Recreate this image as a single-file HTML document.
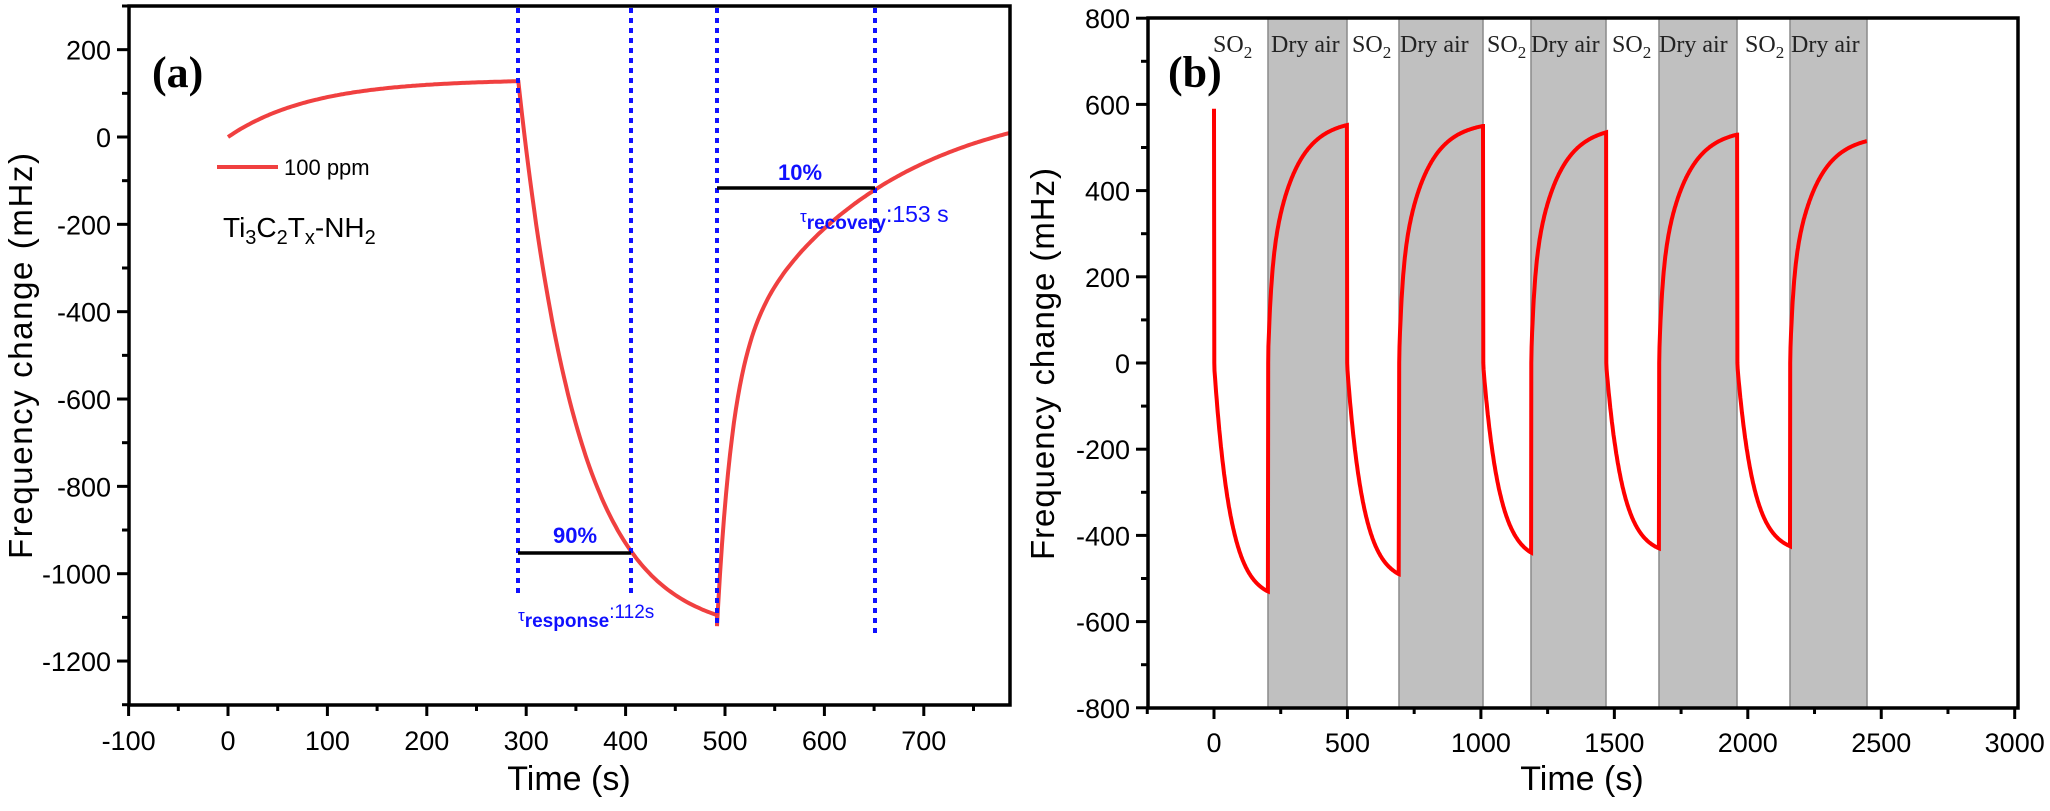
<!DOCTYPE html>
<html><head><meta charset="utf-8"><style>
html,body{margin:0;padding:0;background:#fff;width:2050px;height:811px;overflow:hidden}
svg{display:block}
text{font-family:"Liberation Sans",sans-serif}
.t{font-size:27px;fill:#000}
text.s{font-family:"Liberation Serif",serif}
</style></head><body>
<svg id="c" width="2050" height="811" xmlns="http://www.w3.org/2000/svg">
<g fill="#c0c0c0" stroke="#8a8a8a" stroke-width="1.5">
<rect x="1268" y="18" width="79" height="690"/>
<rect x="1399" y="18" width="84" height="690"/>
<rect x="1531" y="18" width="75" height="690"/>
<rect x="1659" y="18" width="78" height="690"/>
<rect x="1790" y="18" width="77" height="690"/>
</g>
<g id="g"></g>
<rect x="129" y="6" width="881" height="699" fill="none" stroke="#000" stroke-width="3.5"/>
<rect x="1148" y="18" width="870" height="690" fill="none" stroke="#000" stroke-width="3.5"/>
<g stroke="#1010ff" stroke-width="4" stroke-dasharray="5,5">
<line x1="518" y1="8" x2="518" y2="598"/>
<line x1="631" y1="8" x2="631" y2="598"/>
<line x1="717" y1="8" x2="717" y2="628"/>
<line x1="875" y1="8" x2="875" y2="635"/>
</g>
<g stroke="#000" stroke-width="3.5">
<line x1="518" y1="553" x2="631" y2="553"/>
<line x1="717" y1="188" x2="875" y2="188"/>
</g>
<text x="575" y="543" text-anchor="middle" font-size="22" font-weight="bold" fill="#1010ff">90%</text>
<text x="800" y="180" text-anchor="middle" font-size="22" font-weight="bold" fill="#1010ff">10%</text>
<text x="518" y="626" font-size="19" fill="#1010ff"><tspan font-size="17" dy="-5">τ</tspan><tspan font-weight="bold" dy="6">response</tspan><tspan dy="-9">:112s</tspan></text>
<text x="800" y="222" font-size="19" fill="#1010ff"><tspan font-size="17">τ</tspan><tspan font-weight="bold" dy="7">recovery</tspan><tspan dy="-7" font-size="23">:153 s</tspan></text>
<text x="152" y="87" class="s" font-size="44" font-weight="bold">(a)</text>
<line x1="217" y1="167" x2="278" y2="167" stroke="#f04040" stroke-width="4"/>
<text x="284" y="175" font-size="22">100 ppm</text>
<text x="223" y="237" font-size="28">Ti<tspan font-size="20" dy="7">3</tspan><tspan dy="-7">C</tspan><tspan font-size="20" dy="7">2</tspan><tspan dy="-7">T</tspan><tspan font-size="20" dy="7">x</tspan><tspan dy="-7">-NH</tspan><tspan font-size="20" dy="7">2</tspan></text>
<text x="1168" y="87" class="s" font-size="44" font-weight="bold">(b)</text>
<g font-size="24" fill="#222">
<text class="s" x="1213" y="52">SO<tspan font-size="17" dy="6">2</tspan></text>
<text class="s" x="1271" y="52">Dry air</text>
<text class="s" x="1352" y="52">SO<tspan font-size="17" dy="6">2</tspan></text>
<text class="s" x="1400" y="52">Dry air</text>
<text class="s" x="1487" y="52">SO<tspan font-size="17" dy="6">2</tspan></text>
<text class="s" x="1531" y="52">Dry air</text>
<text class="s" x="1612" y="52">SO<tspan font-size="17" dy="6">2</tspan></text>
<text class="s" x="1659" y="52">Dry air</text>
<text class="s" x="1745" y="52">SO<tspan font-size="17" dy="6">2</tspan></text>
<text class="s" x="1791" y="52">Dry air</text>
</g>
<text x="569" y="790" text-anchor="middle" font-size="34">Time (s)</text>
<text x="1582" y="790" text-anchor="middle" font-size="34">Time (s)</text>
<text transform="translate(32,356) rotate(-90)" text-anchor="middle" font-size="33" textLength="406">Frequency change (mHz)</text>
<text transform="translate(1054,364) rotate(-90)" text-anchor="middle" font-size="33" textLength="392">Frequency change (mHz)</text>
</svg>
<script>
const NS="http://www.w3.org/2000/svg",g=document.getElementById('g'),svg=document.getElementById('c');
function el(n,a,p){const e=document.createElementNS(NS,n);for(const k in a)e.setAttribute(k,a[k]);(p||svg).appendChild(e);return e;}
function txt(x,y,s,anchor){const e=el('text',{x,y,'class':'t','text-anchor':anchor});e.textContent=s;}
const ax=t=>228+0.994*t, ay=v=>137-0.4367*v;
for(let t=-100;t<=750;t+=50){const x=ax(t),maj=t%100==0;el('line',{x1:x,y1:705,x2:x,y2:maj?716:711,stroke:'#000','stroke-width':3});if(maj)txt(x,750,String(t),'middle');}
for(let v=-1300;v<=300;v+=100){const y=ay(v),maj=v%200==0;el('line',{x1:129,y1:y,x2:maj?117:122,y2:y,stroke:'#000','stroke-width':3});if(maj)txt(111,y+10,String(v),'end');}
let pa=[];
for(let t=0;t<=292;t+=2){pa.push([t,132*(1-Math.exp(-t/85))]);}
for(let t=292;t<=492;t+=2){const d=t-292;pa.push([t,-1140+1270*Math.exp(-d/60)]);}
pa.push([492,-1120]);
for(let t=493;t<=787;t+=2){const d=t-492;pa.push([t,-1120+587*(1-Math.exp(-d/15))+631*(1-Math.exp(-d/150))]);}
el('path',{d:'M'+pa.map(p=>ax(p[0]).toFixed(1)+','+ay(p[1]).toFixed(1)).join('L'),fill:'none',stroke:'#f04040','stroke-width':4},g);
const bx=t=>1214+0.2669*t, by=v=>363-0.431*v;
for(let t=-250;t<=3000;t+=250){const x=bx(t),maj=t%500==0;el('line',{x1:x,y1:708,x2:x,y2:maj?719:714,stroke:'#000','stroke-width':3});if(maj)txt(x,752,String(t),'middle');}
for(let v=-800;v<=800;v+=100){const y=by(v),maj=v%200==0;el('line',{x1:1148,y1:y,x2:maj?1136:1141,y2:y,stroke:'#000','stroke-width':3});if(maj)txt(1130,y+10,String(v),'end');}
const cyc=[[0,202,590,-530],[498,693,552,-490],[1008,1188,550,-440],[1469,1667,535,-430],[1960,2158,530,-425]];
const ends=[498,1008,1469,1960,2447],hi=[552,550,535,530,515];
let pb=[];
cyc.forEach((c,i)=>{const[s,e,top,mn]=c;pb.push([s,top]);pb.push([s+1,0]);
for(let t=s+2;t<=e;t+=2){const d=t-s;pb.push([t,mn*(1-Math.exp(-d/60))/(1-Math.exp(-(e-s)/60))]);}
const E=ends[i],H=hi[i];pb.push([e+1,0]);
const F=d=>0.35*(1-Math.exp(-d/12))+0.65*(1-Math.exp(-d/90));
for(let t=e+2;t<=E;t+=2){const d=t-e;pb.push([t,H*F(d)/F(E-e)]);}
});
el('path',{d:'M'+pb.map(p=>bx(p[0]).toFixed(1)+','+by(p[1]).toFixed(1)).join('L'),fill:'none',stroke:'#ff0000','stroke-width':4},g);
</script>
</body></html>
